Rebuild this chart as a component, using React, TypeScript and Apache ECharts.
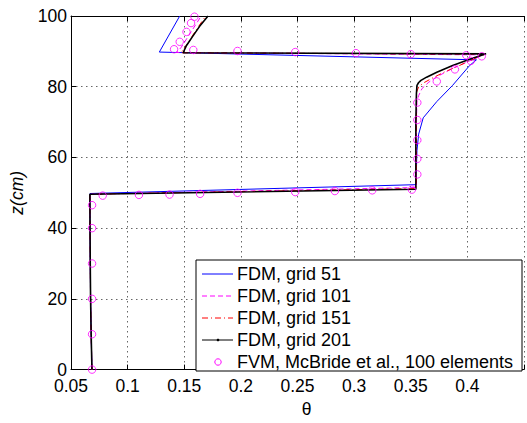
import React, { useEffect, useRef } from "react";
import * as echarts from "echarts";

const seriesNames = [
  "FDM, grid 51",
  "FDM, grid 101",
  "FDM, grid 151",
  "FDM, grid 201",
  "FVM, McBride et al., 100 elements",
];

// FDM grid 51
const g51Theta = [0.0685, 0.0678, 0.0673, 0.067, 0.0668, 0.0667, 0.0668, 0.355, 0.355, 0.3552, 0.3555, 0.357, 0.361, 0.373, 0.387, 0.402, 0.408, 0.128, 0.146];
const g51Z = [0, 10, 20, 30, 40, 48, 49.8, 52.3, 56, 59, 62, 66.6, 71.2, 75.8, 80.4, 86, 87.6, 89.8, 100];

// FDM grid 101
const g101Theta = [0.0685, 0.0678, 0.0673, 0.067, 0.0668, 0.0667, 0.355, 0.355, 0.355, 0.3555, 0.357, 0.36, 0.366, 0.373, 0.387, 0.402, 0.414, 0.143, 0.147, 0.153, 0.16, 0.165];
const g101Z = [0, 10, 20, 30, 40, 49.6, 51.5, 60, 70, 76, 77.5, 79.5, 81.3, 82.8, 85.2, 87.3, 89.0, 89.7, 91, 94, 97.5, 100];

// FDM grid 151
const g151Theta = [0.0685, 0.0678, 0.0673, 0.067, 0.0668, 0.0667, 0.355, 0.355, 0.355, 0.3552, 0.357, 0.362, 0.37, 0.38, 0.393, 0.404, 0.4155, 0.147, 0.151, 0.157, 0.1625, 0.169];
const g151Z = [0, 10, 20, 30, 40, 49.6, 51.2, 60, 70, 78.5, 80, 81.2, 82.6, 84.2, 86, 87.6, 89.2, 89.6, 91.3, 94.3, 97, 100];

// FDM grid 201
const g201Theta = [0.0685, 0.0678, 0.0673, 0.067, 0.0668, 0.0667, 0.3545, 0.3545, 0.3545, 0.355, 0.3555, 0.357, 0.359, 0.364, 0.373, 0.387, 0.402, 0.4165, 0.149, 0.1517, 0.1576, 0.1634, 0.171];
const g201Z = [0, 10, 20, 30, 40, 49.6, 51.0, 60, 70, 78, 80.4, 81.2, 81.8, 82.7, 84.1, 86, 87.8, 89.3, 89.6, 91.5, 94.3, 97, 100];

// FVM, McBride et al.
const fvmTheta = [0.0686, 0.0686, 0.0686, 0.0686, 0.0686, 0.0686, 0.078, 0.11, 0.137, 0.164, 0.197, 0.248, 0.283, 0.316, 0.351, 0.3558, 0.3558, 0.3558, 0.3558, 0.3558, 0.373, 0.389, 0.403, 0.4127, 0.399, 0.35, 0.3016, 0.248, 0.197, 0.158, 0.141, 0.146, 0.152, 0.156, 0.159];
const fvmZ = [0, 10, 20, 30, 40, 46.5, 49.2, 49.4, 49.5, 49.7, 50.0, 50.2, 50.5, 50.7, 50.9, 55.2, 59.6, 64.9, 70.6, 75.5, 81.5, 84.9, 87.3, 88.6, 88.9, 89.2, 89.5, 89.8, 90.1, 90.4, 90.6, 92.7, 95.5, 98, 99.8];

const xMin = 0.05;
const xMax = 0.45;
const xStep = 0.05;
const yMin = 0;
const yMax = 100;
const yStep = 20;

const pair = (t: number[], z: number[]) => t.map((v, i) => [v, z[i]]);

const FONT = "'Liberation Sans', Arial, Helvetica, sans-serif";

export default function App() {
  const ref = useRef<HTMLDivElement>(null);
  useEffect(() => {
    if (!ref.current) return;
    const chart = echarts.init(ref.current, undefined, { renderer: "svg" });
    const lx = 196, ly = 260, lw = 326, lh = 111;
    const rowY = [274, 296, 318, 340, 362];
    const legendStyles: any[] = [
      { stroke: "#0000ff", lineWidth: 1 },
      { stroke: "#ff00ff", lineWidth: 1, lineDash: [5, 3] },
      { stroke: "#ff0000", lineWidth: 1, lineDash: [6, 3, 1, 3] },
      { stroke: "#000000", lineWidth: 1 },
    ];
    const graphic: any[] = [
      {
        type: "rect",
        z: 100,
        shape: { x: lx, y: ly, width: lw, height: lh },
        style: { fill: "#ffffff", stroke: "#000000", lineWidth: 1 },
      },
    ];
    seriesNames.forEach((name, i) => {
      if (i < 4) {
        graphic.push({
          type: "line",
          z: 101,
          shape: { x1: 202, y1: rowY[i], x2: 233, y2: rowY[i] },
          style: legendStyles[i],
        });
      }
      if (i === 3) {
        graphic.push({ type: "circle", z: 102, shape: { cx: 218, cy: rowY[i], r: 1.3 }, style: { fill: "#000" } });
      }
      if (i === 4) {
        graphic.push({
          type: "circle",
          z: 102,
          shape: { cx: 218, cy: rowY[i], r: 3.2 },
          style: { fill: "none", stroke: "#ff00ff", lineWidth: 1 },
        });
      }
      graphic.push({
        type: "text",
        z: 102,
        x: 237,
        y: rowY[i],
        style: { text: name, fontSize: 18, fontFamily: FONT, fill: "#000", align: "left", verticalAlign: "middle" },
      });
    });

    const labelFmt = (v: number) => (v > xMax - 1e-6 ? "" : String(+v.toFixed(2)));
    const splitLine = { show: true, lineStyle: { color: "#666", type: [1.5, 3.5], width: 1 } };

    chart.setOption({
      animation: false,
      backgroundColor: "#ffffff",
      grid: { left: 70, top: 16, width: 458, height: 361, show: false },
      xAxis: [
        {
          type: "value",
          min: xMin,
          max: xMax,
          interval: xStep,
          name: "θ",
          nameLocation: "middle",
          nameGap: 26,
          nameTextStyle: { fontSize: 17.5, fontFamily: FONT, color: "#000", padding: [0, 0, 0, 18] },
          axisLine: { show: true, onZero: false, lineStyle: { color: "#000", width: 1 } },
          axisTick: { show: true, inside: true, length: 5, lineStyle: { color: "#000" } },
          axisLabel: { fontSize: 17.5, fontFamily: FONT, color: "#000", margin: 9, lineHeight: 15, formatter: labelFmt, showMaxLabel: true },
          splitLine,
        },
        {
          type: "value",
          position: "top",
          min: xMin,
          max: xMax,
          interval: xStep,
          axisLine: { show: true, onZero: false, lineStyle: { color: "#000", width: 1 } },
          axisTick: { show: true, inside: true, length: 5, lineStyle: { color: "#000" } },
          axisLabel: { show: false },
          splitLine: { show: false },
        },
      ],
      yAxis: [
        {
          type: "value",
          min: yMin,
          max: yMax,
          interval: yStep,
          name: "z(cm)",
          nameLocation: "middle",
          nameGap: 36,
          nameTextStyle: { fontSize: 17.5, fontFamily: FONT, color: "#000", fontStyle: "italic", padding: [0, 0, 9, 0] },
          axisLine: { show: true, onZero: false, lineStyle: { color: "#000", width: 1 } },
          axisTick: { show: true, inside: true, length: 5, lineStyle: { color: "#000" } },
          axisLabel: { fontSize: 17.5, fontFamily: FONT, color: "#000", margin: 4, lineHeight: 14, verticalAlign: "middle" },
          splitLine,
        },
      ],
      series: [
        {
          name: seriesNames[0],
          type: "line",
          data: pair(g51Theta, g51Z),
          symbol: "none",
          lineStyle: { color: "#0000ff", width: 1 },
          z: 3,
        },
        {
          name: seriesNames[1],
          type: "line",
          data: pair(g101Theta, g101Z),
          symbol: "none",
          lineStyle: { color: "#ff00ff", width: 1, type: [5, 3] },
          z: 4,
        },
        {
          name: seriesNames[2],
          type: "line",
          data: pair(g151Theta, g151Z),
          symbol: "none",
          lineStyle: { color: "#ff0000", width: 1, type: [6, 3, 1, 3] },
          z: 5,
        },
        {
          name: seriesNames[3],
          type: "line",
          data: pair(g201Theta, g201Z),
          symbol: "none",
          lineStyle: { color: "#000000", width: 1.6 },
          z: 6,
        },
        {
          name: seriesNames[4],
          type: "scatter",
          data: pair(fvmTheta, fvmZ),
          symbol: "circle",
          symbolSize: 7.5,
          itemStyle: { color: "rgba(0,0,0,0)", borderColor: "#ff00ff", borderWidth: 1 },
          z: 7,
        },
      ],
      graphic,
    });
    return () => chart.dispose();
  }, []);
  return <div ref={ref} style={{ position: "fixed", left: 0, top: 0, width: 527, height: 423, background: "#fff" }} />;
}
